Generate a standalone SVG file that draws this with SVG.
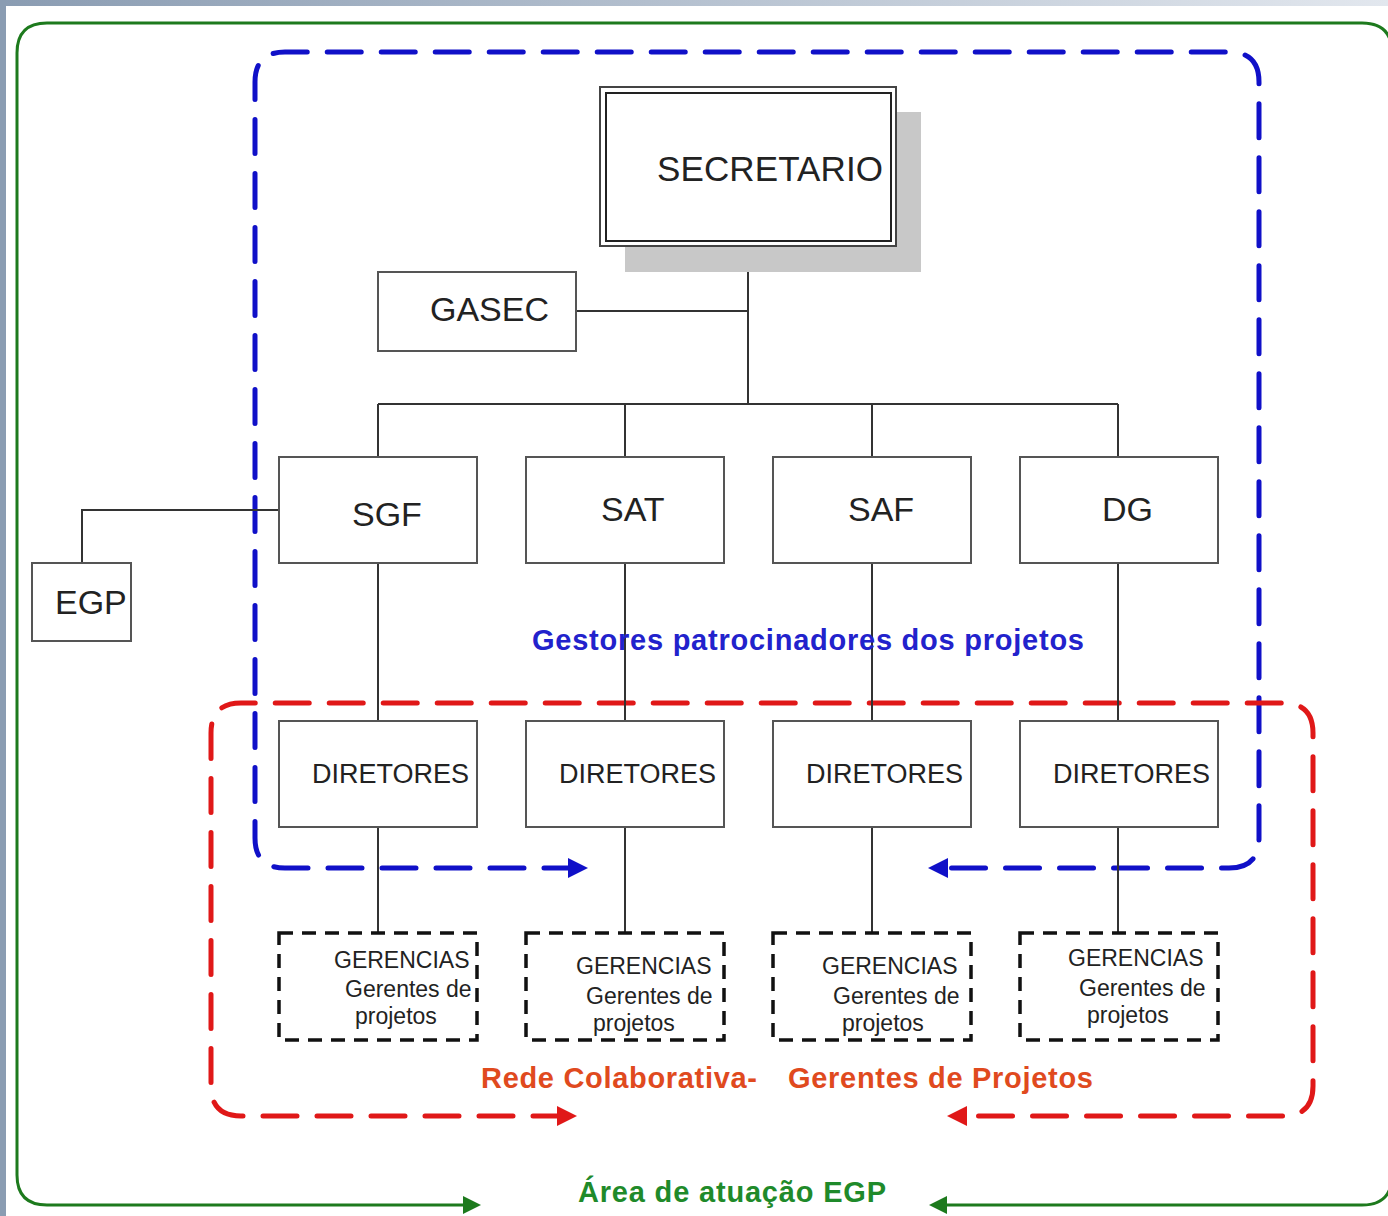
<svg xmlns="http://www.w3.org/2000/svg" width="1388" height="1216" viewBox="0 0 1388 1216">
<defs>
<linearGradient id="topg" x1="0" y1="0" x2="1" y2="0">
<stop offset="0" stop-color="#8a9cb2"/>
<stop offset="1" stop-color="#e2e7ee"/>
</linearGradient>
<marker id="ab" viewBox="0 0 10 10" refX="5" refY="5" markerWidth="4" markerHeight="4" orient="auto-start-reverse" markerUnits="strokeWidth">
<path d="M0,0 L10,5 L0,10 z" fill="#1010c8"/>
</marker>
<marker id="ar" viewBox="0 0 10 10" refX="5" refY="5" markerWidth="4" markerHeight="4" orient="auto-start-reverse" markerUnits="strokeWidth">
<path d="M0,0 L10,5 L0,10 z" fill="#e01818"/>
</marker>
<marker id="ag" viewBox="0 0 10 10" refX="5" refY="5" markerWidth="6" markerHeight="6" orient="auto-start-reverse" markerUnits="strokeWidth">
<path d="M0,0 L10,5 L0,10 z" fill="#1d7a1d"/>
</marker>
</defs>
<style>
.box{fill:#fff;stroke:#555;stroke-width:2}
.dbox{fill:#fff;stroke:#111;stroke-width:3.5;stroke-dasharray:14 9}
.ln{fill:none;stroke:#333;stroke-width:2}
.t{font-family:"Liberation Sans",Arial,sans-serif;fill:#222}
.b{font-family:"Liberation Sans",Arial,sans-serif;font-weight:bold}
</style>
<rect x="0" y="0" width="1388" height="1216" fill="#fff"/>
<rect x="0" y="0" width="1388" height="6" fill="url(#topg)"/>
<rect x="0" y="0" width="6" height="1216" fill="#8a9cb2"/>

<g id="frames">
<path d="M472,1205 H47 Q17,1205 17,1175 V53 Q17,23 47,23 H1362 Q1392,23 1392,53 V1175 Q1392,1205 1362,1205 H938" fill="none" stroke="#1d7a1d" stroke-width="3" marker-start="url(#ag)" marker-end="url(#ag)"/>
<path d="M578,868 H285 Q255,868 255,838 V82 Q255,52 285,52 H1229 Q1259,52 1259,82 V838 Q1259,868 1229,868 H938" fill="none" stroke="#1010c8" stroke-width="5" stroke-dasharray="34 20" stroke-linecap="round" marker-start="url(#ab)" marker-end="url(#ab)"/>
<path d="M567,1116 H241 Q211,1116 211,1086 V733 Q211,703 241,703 H1283 Q1313,703 1313,733 V1086 Q1313,1116 1283,1116 H957" fill="none" stroke="#e01818" stroke-width="5" stroke-dasharray="34 20" stroke-linecap="round" marker-start="url(#ar)" marker-end="url(#ar)"/>
</g>

<g id="connectors">
<path class="ln" d="M748,246 V404 M576,311 H748 M378,404 H1118 M378,404 V457 M625,404 V457 M872,404 V457 M1118,404 V457"/>
<path class="ln" d="M279,510 H82 V563"/>
<path class="ln" d="M378,563 V721 M625,563 V721 M872,563 V721 M1118,563 V721"/>
<path class="ln" d="M378,827 V933 M625,827 V933 M872,827 V933 M1118,827 V933"/>
</g>

<g id="secretario">
<rect x="625" y="112" width="296" height="160" fill="#c8c8c8"/>
<rect x="600" y="87" width="296" height="159" fill="#fff" stroke="#444" stroke-width="2"/>
<rect x="606" y="93" width="285" height="148" fill="none" stroke="#222" stroke-width="2"/>
<text class="t" x="657" y="181" font-size="35" textLength="226">SECRETARIO</text>
</g>
<g id="gasec">
<rect class="box" x="378" y="272" width="198" height="79"/>
<text class="t" x="430" y="321" font-size="34">GASEC</text>
</g>
<g id="sgf">
<rect class="box" x="279" y="457" width="198" height="106"/>
<text class="t" x="352" y="526" font-size="34">SGF</text>
</g>
<g id="sat">
<rect class="box" x="526" y="457" width="198" height="106"/>
<text class="t" x="601" y="521" font-size="34">SAT</text>
</g>
<g id="saf">
<rect class="box" x="773" y="457" width="198" height="106"/>
<text class="t" x="848" y="521" font-size="34">SAF</text>
</g>
<g id="dg">
<rect class="box" x="1020" y="457" width="198" height="106"/>
<text class="t" x="1102" y="521" font-size="34">DG</text>
</g>
<g id="egp">
<rect class="box" x="32" y="563" width="99" height="78"/>
<text class="t" x="55" y="614" font-size="34">EGP</text>
</g>

<g id="dir1">
<rect class="box" x="279" y="721" width="198" height="106"/>
<text class="t" x="312" y="783" font-size="27">DIRETORES</text>
</g>
<g id="dir2">
<rect class="box" x="526" y="721" width="198" height="106"/>
<text class="t" x="559" y="783" font-size="27">DIRETORES</text>
</g>
<g id="dir3">
<rect class="box" x="773" y="721" width="198" height="106"/>
<text class="t" x="806" y="783" font-size="27">DIRETORES</text>
</g>
<g id="dir4">
<rect class="box" x="1020" y="721" width="198" height="106"/>
<text class="t" x="1053" y="783" font-size="27">DIRETORES</text>
</g>

<g id="ger1">
<rect class="dbox" x="279" y="933" width="198" height="107"/>
<text class="t" font-size="23"><tspan x="334" y="968">GERENCIAS</tspan><tspan x="345" y="997">Gerentes de</tspan><tspan x="355" y="1024">projetos</tspan></text>
</g>
<g id="ger2">
<rect class="dbox" x="526" y="933" width="198" height="107"/>
<text class="t" font-size="23"><tspan x="576" y="974">GERENCIAS</tspan><tspan x="586" y="1004">Gerentes de</tspan><tspan x="593" y="1031">projetos</tspan></text>
</g>
<g id="ger3">
<rect class="dbox" x="773" y="933" width="198" height="107"/>
<text class="t" font-size="23"><tspan x="822" y="974">GERENCIAS</tspan><tspan x="833" y="1004">Gerentes de</tspan><tspan x="842" y="1031">projetos</tspan></text>
</g>
<g id="ger4">
<rect class="dbox" x="1020" y="933" width="198" height="107"/>
<text class="t" font-size="23"><tspan x="1068" y="966">GERENCIAS</tspan><tspan x="1079" y="996">Gerentes de</tspan><tspan x="1087" y="1023">projetos</tspan></text>
</g>

<g id="labels">
<text class="b" x="532" y="650" font-size="29" fill="#2222cc" textLength="552">Gestores patrocinadores dos projetos</text>
<text class="b" x="481" y="1088" font-size="29" fill="#e04a1e" textLength="276">Rede Colaborativa-</text>
<text class="b" x="788" y="1088" font-size="29" fill="#e04a1e" textLength="305">Gerentes de Projetos</text>
<text class="b" x="578" y="1202" font-size="29" fill="#1f8a2a" textLength="308">Área de atuação EGP</text>
</g>
</svg>
